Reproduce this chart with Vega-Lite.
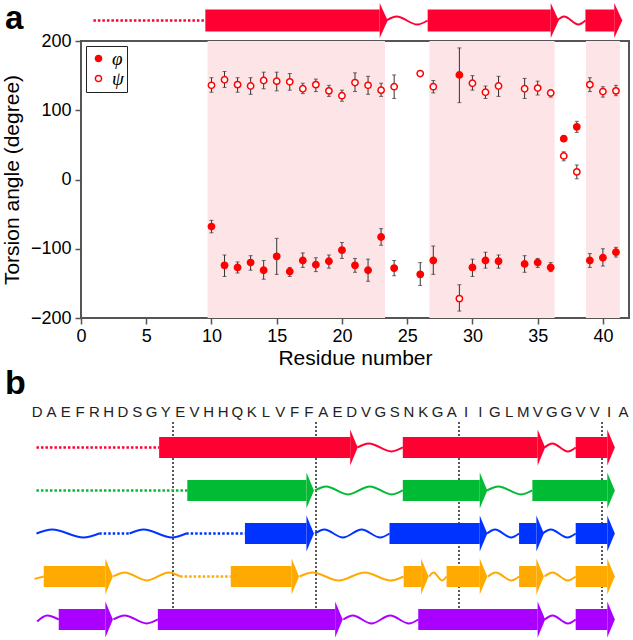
{
  "$schema": "https://vega.github.io/schema/vega-lite/v6.json",
  "padding": {"left": 0, "top": 0, "right": 3, "bottom": 0},
  "spacing": 0,
  "bounds": "flush",
  "resolve": {"scale": {"x": "independent", "y": "independent", "fill": "independent", "color": "independent"}, "legend": {"fill": "independent"}},
  "config": {
    "font": "Liberation Sans",
    "view": {"stroke": null},
    "legend": {
      "orient": "top-left", "offset": 5, "padding": 3, "strokeColor": "#222", "fillColor": "white",
      "labelFont": "Liberation Serif", "labelFontStyle": "italic", "labelFontSize": 19, "labelColor": "black",
      "symbolSize": 38, "symbolStrokeColor": "#ff0000", "symbolStrokeWidth": 1.5, "symbolType": "circle",
      "rowPadding": 0, "labelOffset": 4
    }
  },
  "datasets": {
    "angles": [
      {"res": 10, "angle": "φ", "v": -68, "lo": -77, "hi": -59},
      {"res": 11, "angle": "φ", "v": -124, "lo": -140, "hi": -109},
      {"res": 12, "angle": "φ", "v": -127, "lo": -135, "hi": -119},
      {"res": 13, "angle": "φ", "v": -120, "lo": -131, "hi": -110},
      {"res": 14, "angle": "φ", "v": -131, "lo": -144, "hi": -117},
      {"res": 15, "angle": "φ", "v": -111, "lo": -137, "hi": -85},
      {"res": 16, "angle": "φ", "v": -133, "lo": -140, "hi": -127},
      {"res": 17, "angle": "φ", "v": -117, "lo": -127, "hi": -106},
      {"res": 18, "angle": "φ", "v": -123, "lo": -133, "hi": -113},
      {"res": 19, "angle": "φ", "v": -118, "lo": -128, "hi": -109},
      {"res": 20, "angle": "φ", "v": -102, "lo": -114, "hi": -91},
      {"res": 21, "angle": "φ", "v": -124, "lo": -134, "hi": -114},
      {"res": 22, "angle": "φ", "v": -131, "lo": -147, "hi": -115},
      {"res": 23, "angle": "φ", "v": -83, "lo": -95, "hi": -71},
      {"res": 24, "angle": "φ", "v": -128, "lo": -139, "hi": -117},
      {"res": 26, "angle": "φ", "v": -137, "lo": -153, "hi": -120},
      {"res": 27, "angle": "φ", "v": -117, "lo": -137, "hi": -96},
      {"res": 29, "angle": "φ", "v": 151, "lo": 111, "hi": 190},
      {"res": 30, "angle": "φ", "v": -127, "lo": -140, "hi": -115},
      {"res": 31, "angle": "φ", "v": -117, "lo": -128, "hi": -105},
      {"res": 32, "angle": "φ", "v": -118, "lo": -128, "hi": -109},
      {"res": 34, "angle": "φ", "v": -122, "lo": -134, "hi": -110},
      {"res": 35, "angle": "φ", "v": -120, "lo": -127, "hi": -114},
      {"res": 36, "angle": "φ", "v": -127, "lo": -133, "hi": -120},
      {"res": 37, "angle": "φ", "v": 59, "lo": 55, "hi": 63},
      {"res": 38, "angle": "φ", "v": 76, "lo": 68, "hi": 84},
      {"res": 39, "angle": "φ", "v": -117, "lo": -127, "hi": -107},
      {"res": 40, "angle": "φ", "v": -113, "lo": -125, "hi": -100},
      {"res": 41, "angle": "φ", "v": -105, "lo": -112, "hi": -98},
      {"res": 10, "angle": "ψ", "v": 136, "lo": 126, "hi": 147},
      {"res": 11, "angle": "ψ", "v": 144, "lo": 133, "hi": 156},
      {"res": 12, "angle": "ψ", "v": 137, "lo": 126, "hi": 147},
      {"res": 13, "angle": "ψ", "v": 135, "lo": 123, "hi": 147},
      {"res": 14, "angle": "ψ", "v": 143, "lo": 131, "hi": 155},
      {"res": 15, "angle": "ψ", "v": 142, "lo": 128, "hi": 155},
      {"res": 16, "angle": "ψ", "v": 141, "lo": 129, "hi": 153},
      {"res": 17, "angle": "ψ", "v": 131, "lo": 124, "hi": 139},
      {"res": 18, "angle": "ψ", "v": 137, "lo": 127, "hi": 145},
      {"res": 19, "angle": "ψ", "v": 128, "lo": 120, "hi": 136},
      {"res": 20, "angle": "ψ", "v": 121, "lo": 113, "hi": 129},
      {"res": 21, "angle": "ψ", "v": 140, "lo": 127, "hi": 154},
      {"res": 22, "angle": "ψ", "v": 136, "lo": 123, "hi": 149},
      {"res": 23, "angle": "ψ", "v": 129, "lo": 120, "hi": 139},
      {"res": 24, "angle": "ψ", "v": 134, "lo": 117, "hi": 151},
      {"res": 26, "angle": "ψ", "v": 153, "lo": 150, "hi": 156},
      {"res": 27, "angle": "ψ", "v": 134, "lo": 125, "hi": 143},
      {"res": 29, "angle": "ψ", "v": -172, "lo": -190, "hi": -152},
      {"res": 30, "angle": "ψ", "v": 139, "lo": 129, "hi": 150},
      {"res": 31, "angle": "ψ", "v": 126, "lo": 117, "hi": 135},
      {"res": 32, "angle": "ψ", "v": 135, "lo": 120, "hi": 149},
      {"res": 34, "angle": "ψ", "v": 131, "lo": 117, "hi": 146},
      {"res": 35, "angle": "ψ", "v": 132, "lo": 122, "hi": 142},
      {"res": 36, "angle": "ψ", "v": 125, "lo": 119, "hi": 129},
      {"res": 37, "angle": "ψ", "v": 34, "lo": 27, "hi": 40},
      {"res": 38, "angle": "ψ", "v": 11, "lo": 1, "hi": 21},
      {"res": 39, "angle": "ψ", "v": 137, "lo": 127, "hi": 147},
      {"res": 40, "angle": "ψ", "v": 127, "lo": 119, "hi": 134},
      {"res": 41, "angle": "ψ", "v": 128, "lo": 121, "hi": 136}
    ],
    "sheets": [
      {"start": 9.7, "end": 23.3},
      {"start": 26.7, "end": 36.3},
      {"start": 38.7, "end": 41.3}
    ],
    "ss": [
      {"row": "S1", "type": "loop", "start": 0.95, "end": 9.53},
      {"row": "S1", "type": "strand", "start": 9.53, "end": 22.89},
      {"row": "S1", "type": "strand", "start": 26.57, "end": 36.0},
      {"row": "S1", "type": "strand", "start": 38.66, "end": 40.87},
      {"row": "S2", "type": "loop", "start": 0.95, "end": 11.5},
      {"row": "S2", "type": "strand", "start": 11.5, "end": 19.83},
      {"row": "S2", "type": "strand", "start": 26.57, "end": 31.95},
      {"row": "S2", "type": "strand", "start": 35.63, "end": 40.87},
      {"row": "S3", "type": "loop", "start": 5.34, "end": 7.46},
      {"row": "S3", "type": "loop", "start": 11.42, "end": 15.53},
      {"row": "S3", "type": "strand", "start": 15.53, "end": 19.83},
      {"row": "S3", "type": "strand", "start": 25.64, "end": 31.95},
      {"row": "S3", "type": "strand", "start": 34.7, "end": 35.91},
      {"row": "S3", "type": "strand", "start": 38.66, "end": 40.87},
      {"row": "S4", "type": "strand", "start": 1.46, "end": 5.77},
      {"row": "S4", "type": "loop", "start": 11.0, "end": 14.54},
      {"row": "S4", "type": "strand", "start": 14.54, "end": 18.79},
      {"row": "S4", "type": "strand", "start": 26.63, "end": 27.85},
      {"row": "S4", "type": "strand", "start": 29.63, "end": 31.95},
      {"row": "S4", "type": "strand", "start": 34.7, "end": 35.91},
      {"row": "S4", "type": "strand", "start": 38.66, "end": 40.87},
      {"row": "S5", "type": "strand", "start": 2.51, "end": 5.77},
      {"row": "S5", "type": "strand", "start": 9.44, "end": 21.84},
      {"row": "S5", "type": "strand", "start": 27.65, "end": 36.0},
      {"row": "S5", "type": "strand", "start": 38.66, "end": 40.87}
    ],
    "coil": [
      {"row": "S1", "seg": "S1a", "pos": 23.4, "wave": 0},
      {"row": "S1", "seg": "S1a", "pos": 24.19, "wave": 1},
      {"row": "S1", "seg": "S1a", "pos": 25.77, "wave": -1},
      {"row": "S1", "seg": "S1a", "pos": 26.57, "wave": 0},
      {"row": "S1", "seg": "S1b", "pos": 36.48, "wave": 0},
      {"row": "S1", "seg": "S1b", "pos": 37.03, "wave": 1},
      {"row": "S1", "seg": "S1b", "pos": 38.12, "wave": -1},
      {"row": "S1", "seg": "S1b", "pos": 38.66, "wave": 0},
      {"row": "S2", "seg": "S2a", "pos": 20.43, "wave": 0},
      {"row": "S2", "seg": "S2a", "pos": 21.2, "wave": 1},
      {"row": "S2", "seg": "S2a", "pos": 22.73, "wave": -1},
      {"row": "S2", "seg": "S2a", "pos": 24.27, "wave": 1},
      {"row": "S2", "seg": "S2a", "pos": 25.8, "wave": -1},
      {"row": "S2", "seg": "S2a", "pos": 26.57, "wave": 0},
      {"row": "S2", "seg": "S2b", "pos": 32.46, "wave": 0},
      {"row": "S2", "seg": "S2b", "pos": 33.25, "wave": 1},
      {"row": "S2", "seg": "S2b", "pos": 34.84, "wave": -1},
      {"row": "S2", "seg": "S2b", "pos": 35.63, "wave": 0},
      {"row": "S3", "seg": "S3a", "pos": 0.95, "wave": 0},
      {"row": "S3", "seg": "S3a", "pos": 2.05, "wave": 1},
      {"row": "S3", "seg": "S3a", "pos": 4.24, "wave": -1},
      {"row": "S3", "seg": "S3a", "pos": 5.34, "wave": 0},
      {"row": "S3", "seg": "S3b", "pos": 7.46, "wave": 0},
      {"row": "S3", "seg": "S3b", "pos": 8.45, "wave": 1},
      {"row": "S3", "seg": "S3b", "pos": 10.43, "wave": -1},
      {"row": "S3", "seg": "S3b", "pos": 11.42, "wave": 0},
      {"row": "S3", "seg": "S3c", "pos": 20.43, "wave": 0},
      {"row": "S3", "seg": "S3c", "pos": 21.08, "wave": 1},
      {"row": "S3", "seg": "S3c", "pos": 22.38, "wave": -1},
      {"row": "S3", "seg": "S3c", "pos": 23.69, "wave": 1},
      {"row": "S3", "seg": "S3c", "pos": 24.99, "wave": -1},
      {"row": "S3", "seg": "S3c", "pos": 25.64, "wave": 0},
      {"row": "S3", "seg": "S3d", "pos": 32.46, "wave": 0},
      {"row": "S3", "seg": "S3d", "pos": 33.02, "wave": 1},
      {"row": "S3", "seg": "S3d", "pos": 34.14, "wave": -1},
      {"row": "S3", "seg": "S3d", "pos": 34.7, "wave": 0},
      {"row": "S3", "seg": "S3e", "pos": 36.34, "wave": 0},
      {"row": "S3", "seg": "S3e", "pos": 36.92, "wave": 1},
      {"row": "S3", "seg": "S3e", "pos": 38.08, "wave": -1},
      {"row": "S3", "seg": "S3e", "pos": 38.66, "wave": 0},
      {"row": "S4", "seg": "S4a", "pos": 0.81, "wave": -0.6},
      {"row": "S4", "seg": "S4a", "pos": 1.46, "wave": 0},
      {"row": "S4", "seg": "S4b", "pos": 6.33, "wave": 0},
      {"row": "S4", "seg": "S4b", "pos": 7.11, "wave": 1},
      {"row": "S4", "seg": "S4b", "pos": 8.67, "wave": -1},
      {"row": "S4", "seg": "S4b", "pos": 10.22, "wave": 1},
      {"row": "S4", "seg": "S4b", "pos": 11.0, "wave": 0},
      {"row": "S4", "seg": "S4c", "pos": 19.35, "wave": 0},
      {"row": "S4", "seg": "S4c", "pos": 20.26, "wave": 1},
      {"row": "S4", "seg": "S4c", "pos": 22.08, "wave": -1},
      {"row": "S4", "seg": "S4c", "pos": 23.9, "wave": 1},
      {"row": "S4", "seg": "S4c", "pos": 25.72, "wave": -1},
      {"row": "S4", "seg": "S4c", "pos": 26.63, "wave": 0},
      {"row": "S4", "seg": "S4d", "pos": 28.41, "wave": 0},
      {"row": "S4", "seg": "S4d", "pos": 28.72, "wave": 1},
      {"row": "S4", "seg": "S4d", "pos": 29.32, "wave": -1},
      {"row": "S4", "seg": "S4d", "pos": 29.63, "wave": 0},
      {"row": "S4", "seg": "S4e", "pos": 32.52, "wave": 0},
      {"row": "S4", "seg": "S4e", "pos": 33.07, "wave": 1},
      {"row": "S4", "seg": "S4e", "pos": 34.16, "wave": -1},
      {"row": "S4", "seg": "S4e", "pos": 34.7, "wave": 0},
      {"row": "S4", "seg": "S4f", "pos": 36.48, "wave": 0},
      {"row": "S4", "seg": "S4f", "pos": 37.03, "wave": 1},
      {"row": "S4", "seg": "S4f", "pos": 38.12, "wave": -1},
      {"row": "S4", "seg": "S4f", "pos": 38.66, "wave": 0},
      {"row": "S5", "seg": "S5a", "pos": 1.0, "wave": -0.5},
      {"row": "S5", "seg": "S5a", "pos": 1.7, "wave": 1},
      {"row": "S5", "seg": "S5a", "pos": 2.51, "wave": 0},
      {"row": "S5", "seg": "S5b", "pos": 6.33, "wave": 0},
      {"row": "S5", "seg": "S5b", "pos": 7.11, "wave": 1},
      {"row": "S5", "seg": "S5b", "pos": 8.66, "wave": -1},
      {"row": "S5", "seg": "S5b", "pos": 9.44, "wave": 0},
      {"row": "S5", "seg": "S5c", "pos": 22.41, "wave": 0},
      {"row": "S5", "seg": "S5c", "pos": 23.07, "wave": 1},
      {"row": "S5", "seg": "S5c", "pos": 24.38, "wave": -1},
      {"row": "S5", "seg": "S5c", "pos": 25.69, "wave": 1},
      {"row": "S5", "seg": "S5c", "pos": 27.0, "wave": -1},
      {"row": "S5", "seg": "S5c", "pos": 27.65, "wave": 0},
      {"row": "S5", "seg": "S5d", "pos": 36.5, "wave": 0},
      {"row": "S5", "seg": "S5d", "pos": 37.04, "wave": 1},
      {"row": "S5", "seg": "S5d", "pos": 38.12, "wave": -1},
      {"row": "S5", "seg": "S5d", "pos": 38.66, "wave": 0}
    ],
    "seq": [
      {"res": 1, "aa": "D"}, {"res": 2, "aa": "A"}, {"res": 3, "aa": "E"}, {"res": 4, "aa": "F"},
      {"res": 5, "aa": "R"}, {"res": 6, "aa": "H"}, {"res": 7, "aa": "D"}, {"res": 8, "aa": "S"},
      {"res": 9, "aa": "G"}, {"res": 10, "aa": "Y"}, {"res": 11, "aa": "E"}, {"res": 12, "aa": "V"},
      {"res": 13, "aa": "H"}, {"res": 14, "aa": "H"}, {"res": 15, "aa": "Q"}, {"res": 16, "aa": "K"},
      {"res": 17, "aa": "L"}, {"res": 18, "aa": "V"}, {"res": 19, "aa": "F"}, {"res": 20, "aa": "F"},
      {"res": 21, "aa": "A"}, {"res": 22, "aa": "E"}, {"res": 23, "aa": "D"}, {"res": 24, "aa": "V"},
      {"res": 25, "aa": "G"}, {"res": 26, "aa": "S"}, {"res": 27, "aa": "N"}, {"res": 28, "aa": "K"},
      {"res": 29, "aa": "G"}, {"res": 30, "aa": "A"}, {"res": 31, "aa": "I"}, {"res": 32, "aa": "I"},
      {"res": 33, "aa": "G"}, {"res": 34, "aa": "L"}, {"res": 35, "aa": "M"}, {"res": 36, "aa": "V"},
      {"res": 37, "aa": "G"}, {"res": 38, "aa": "G"}, {"res": 39, "aa": "V"}, {"res": 40, "aa": "V"},
      {"res": 41, "aa": "I"}, {"res": 42, "aa": "A"}
    ],
    "guides": [{"pos": 10.5}, {"pos": 20.5}, {"pos": 30.5}, {"pos": 40.5}]
  },
  "vconcat": [
    {
      "width": 548, "height": 41,
      "title": {"text": "a", "anchor": "start", "frame": "group", "orient": "top", "offset": -62, "dx": -76, "fontSize": 33, "fontWeight": "bold", "baseline": "alphabetic", "color": "black"},
      "layer": [
        {
          "data": {"name": "ss"},
          "transform": [{"filter": "datum.row === 'S1' && datum.type === 'loop'"}],
          "mark": {"type": "rule", "strokeDash": [2.5, 2], "strokeWidth": 2.5},
          "encoding": {
            "x": {"field": "start", "type": "quantitative", "scale": {"domain": [0, 42], "nice": false, "zero": false}, "axis": null},
            "x2": {"field": "end"},
            "y": {"field": "row", "type": "nominal", "scale": {"type": "point", "domain": ["S1"], "padding": 0.5}, "axis": null},
            "color": {"field": "row", "type": "nominal", "scale": {"domain": ["S1", "S2", "S3", "S4", "S5"], "range": ["#ff0033", "#00bb33", "#0033ff", "#ffaa00", "#aa00ff"]}, "legend": null}
          }
        },
        {
          "data": {"name": "coil"},
          "transform": [{"filter": "datum.row === 'S1'"}],
          "mark": {"type": "line", "interpolate": "monotone", "strokeWidth": 2},
          "encoding": {
            "x": {"field": "pos", "type": "quantitative"},
            "y": {"field": "row", "type": "nominal"},
            "yOffset": {"field": "wave", "type": "quantitative", "scale": {"domain": [-1, 1], "range": [4, -4]}},
            "detail": {"field": "seg"},
            "order": {"field": "pos", "type": "quantitative"},
            "color": {"field": "row", "type": "nominal", "legend": null}
          }
        },
        {
          "data": {"name": "ss"},
          "transform": [{"filter": "datum.row === 'S1' && datum.type === 'strand'"}],
          "mark": {"type": "rule", "strokeWidth": 22, "strokeCap": "butt"},
          "encoding": {
            "x": {"field": "start", "type": "quantitative"},
            "x2": {"field": "end"},
            "y": {"field": "row", "type": "nominal"},
            "color": {"field": "row", "type": "nominal", "legend": null}
          }
        },
        {
          "data": {"name": "ss"},
          "transform": [{"filter": "datum.row === 'S1' && datum.type === 'strand'"}],
          "mark": {"type": "point", "shape": "M0,-1L0.46,0L0,1Z", "size": 1225, "filled": true, "opacity": 1, "strokeWidth": 0},
          "encoding": {
            "x": {"field": "end", "type": "quantitative"},
            "y": {"field": "row", "type": "nominal"},
            "color": {"field": "row", "type": "nominal", "legend": null}
          }
        }
      ]
    },
    {
      "width": 548, "height": 277,
      "view": {"stroke": "#555", "strokeWidth": 2},
      "layer": [
        {
          "data": {"name": "sheets"},
          "mark": {"type": "rect", "color": "#fde4e7"},
          "encoding": {
            "x": {"field": "start", "type": "quantitative", "scale": {"domain": [0, 42], "nice": false, "zero": false},
              "axis": {"values": [0, 5, 10, 15, 20, 25, 30, 35, 40], "title": "Residue number", "grid": false, "domain": false,
                "tickSize": 6, "tickColor": "#555", "tickWidth": 1.5, "labelFontSize": 18, "labelColor": "black", "labelPadding": 3,
                "labelFlush": false, "labelOverlap": false, "titleFontSize": 21, "titleFontWeight": "normal", "titleColor": "black", "titlePadding": 2}},
            "x2": {"field": "end"}
          }
        },
        {
          "mark": {"type": "rule", "color": "#666", "strokeWidth": 1.5},
          "encoding": {"y": {"datum": 0, "type": "quantitative"}}
        },
        {
          "data": {"name": "angles"},
          "mark": {"type": "errorbar", "ticks": {"size": 4}, "color": "#333"},
          "encoding": {
            "x": {"field": "res", "type": "quantitative"},
            "y": {"field": "lo", "type": "quantitative", "scale": {"domain": [-200, 200], "nice": false},
              "axis": {"values": [-200, -100, 0, 100, 200], "title": "Torsion angle (degree)", "grid": false, "domain": false,
                "tickSize": 6, "tickColor": "#555", "tickWidth": 1.5, "labelFontSize": 18, "labelColor": "black", "labelPadding": 4,
                "labelFlush": false, "labelOverlap": false, "titleFontSize": 21, "titleFontWeight": "normal", "titleColor": "black", "titlePadding": 8}},
            "y2": {"field": "hi"}
          }
        },
        {
          "data": {"name": "angles"},
          "mark": {"type": "point", "shape": "circle", "filled": true, "opacity": 1, "size": 40, "stroke": "#ff0000", "strokeWidth": 1.5},
          "encoding": {
            "x": {"field": "res", "type": "quantitative"},
            "y": {"field": "v", "type": "quantitative"},
            "fill": {"field": "angle", "type": "nominal", "scale": {"domain": ["φ", "ψ"], "range": ["#ff0000", "white"]}, "legend": {"title": null}}
          }
        }
      ]
    },
    {
      "width": 548, "height": 104,
      "data": {"name": "seq"},
      "mark": {"type": "text", "fontSize": 15, "color": "#222"},
      "encoding": {
        "x": {"field": "res", "type": "quantitative", "scale": {"domain": [4.066, 42.388], "nice": false, "zero": false}, "axis": null},
        "y": {"datum": "seq", "type": "nominal", "scale": {"type": "point", "domain": ["seq"], "padding": 0.5, "align": 0.904}, "axis": null},
        "text": {"field": "aa"}
      }
    },
    {
      "width": 548, "height": 208,
      "title": {"text": "b", "anchor": "start", "frame": "group", "orient": "top", "offset": -7, "dx": -76, "fontSize": 34, "fontWeight": "bold", "baseline": "alphabetic", "color": "black"},
      "layer": [
        {
          "data": {"name": "guides"},
          "mark": {"type": "rule", "strokeDash": [2, 2], "strokeWidth": 1.5, "color": "#222"},
          "encoding": {
            "x": {"field": "pos", "type": "quantitative", "scale": {"domain": [4.066, 42.388], "nice": false, "zero": false}, "axis": null}
          }
        },
        {
          "data": {"name": "ss"},
          "transform": [{"filter": "datum.type === 'loop'"}],
          "mark": {"type": "rule", "strokeDash": [2.5, 2], "strokeWidth": 2.5},
          "encoding": {
            "x": {"field": "start", "type": "quantitative"},
            "x2": {"field": "end"},
            "y": {"field": "row", "type": "nominal", "scale": {"type": "point", "domain": ["S1", "S2", "S3", "S4", "S5"], "padding": 0.4186, "align": 0.708}, "axis": null},
            "color": {"field": "row", "type": "nominal", "scale": {"domain": ["S1", "S2", "S3", "S4", "S5"], "range": ["#ff0033", "#00bb33", "#0033ff", "#ffaa00", "#aa00ff"]}, "legend": null}
          }
        },
        {
          "data": {"name": "coil"},
          "mark": {"type": "line", "interpolate": "monotone", "strokeWidth": 2},
          "encoding": {
            "x": {"field": "pos", "type": "quantitative"},
            "y": {"field": "row", "type": "nominal"},
            "yOffset": {"field": "wave", "type": "quantitative", "scale": {"domain": [-1, 1], "range": [4, -4]}},
            "detail": {"field": "seg"},
            "order": {"field": "pos", "type": "quantitative"},
            "color": {"field": "row", "type": "nominal", "legend": null}
          }
        },
        {
          "data": {"name": "ss"},
          "transform": [{"filter": "datum.type === 'strand'"}],
          "mark": {"type": "rule", "strokeWidth": 21, "strokeCap": "butt"},
          "encoding": {
            "x": {"field": "start", "type": "quantitative"},
            "x2": {"field": "end"},
            "y": {"field": "row", "type": "nominal"},
            "color": {"field": "row", "type": "nominal", "legend": null}
          }
        },
        {
          "data": {"name": "ss"},
          "transform": [{"filter": "datum.type === 'strand'"}],
          "mark": {"type": "point", "shape": "M0,-1L0.42,0L0,1Z", "size": 1296, "filled": true, "opacity": 1, "strokeWidth": 0},
          "encoding": {
            "x": {"field": "end", "type": "quantitative"},
            "y": {"field": "row", "type": "nominal"},
            "color": {"field": "row", "type": "nominal", "legend": null}
          }
        }
      ]
    }
  ]
}
